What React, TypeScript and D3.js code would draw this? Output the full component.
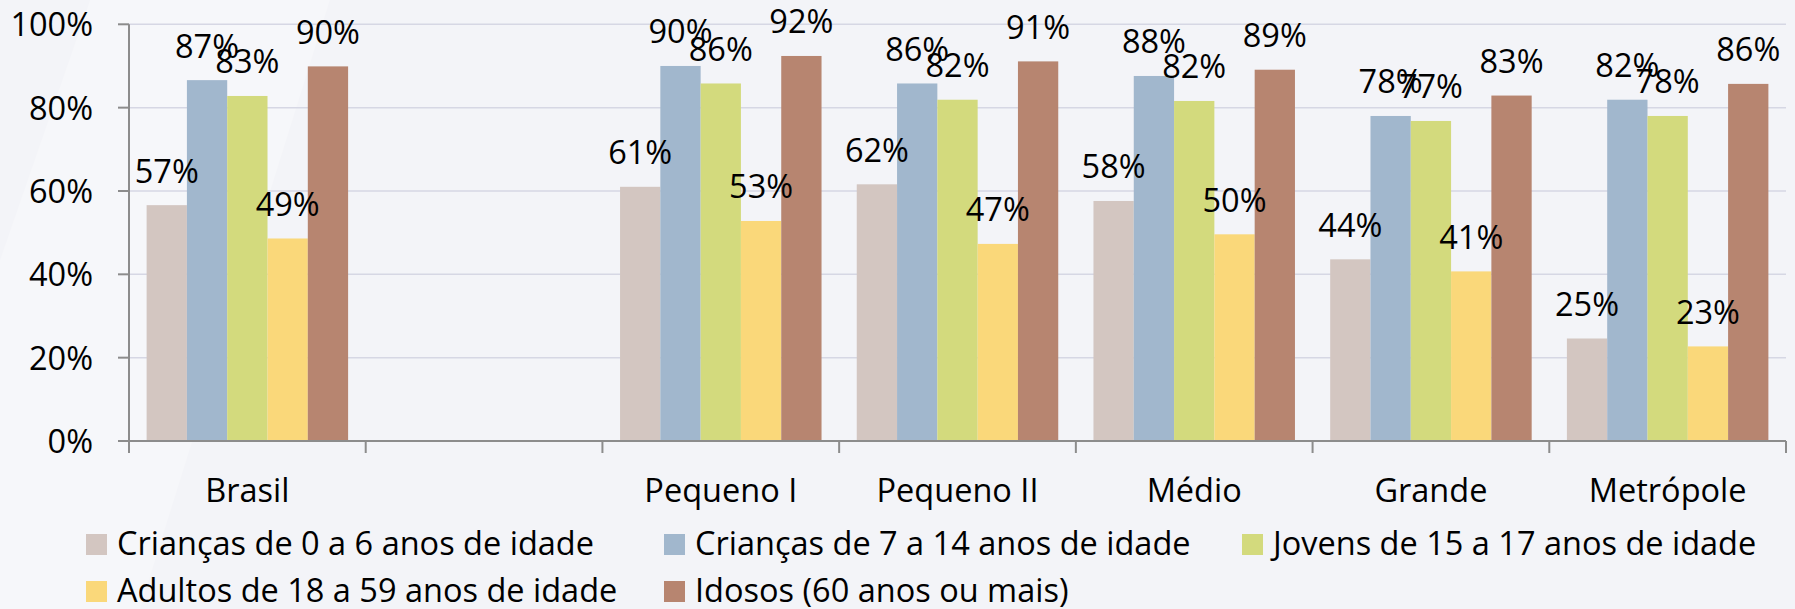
import React from 'react';
import * as d3 from 'd3';

const categories = ['Brasil', '', 'Pequeno I', 'Pequeno II', 'Médio', 'Grande', 'Metrópole'];

const seriesNames = [
  'Crianças de 0 a 6 anos de idade',
  'Crianças de 7 a 14 anos de idade',
  'Jovens de 15 a 17 anos de idade',
  'Adultos de 18 a 59 anos de idade',
  'Idosos (60 anos ou mais)',
];

const seriesColors = ['#D3C6C1', '#A1B7CD', '#D3DA7D', '#FAD87A', '#B78570'];

// values in %, null where the category has no bar
const criancas0a6 = [56.6, null, 61.0, 61.6, 57.6, 43.6, 24.6];
const criancas7a14 = [86.6, null, 90.0, 85.8, 87.6, 78.0, 81.9];
const jovens15a17 = [82.8, null, 85.8, 81.9, 81.6, 76.8, 78.0];
const adultos18a59 = [48.6, null, 52.8, 47.3, 49.6, 40.7, 22.7];
const idosos60 = [89.9, null, 92.4, 91.1, 89.1, 82.9, 85.7];

const yTicks = [0, 20, 40, 60, 80, 100];

const seriesValues = [criancas0a6, criancas7a14, jovens15a17, adultos18a59, idosos60];

const W = 1795;
const H = 609;
const FONT = '"Open Sans", sans-serif';
const FS = 32.5;

export default function App() {
  const x0 = d3.scaleBand<number>()
    .domain(categories.map((_, i) => i))
    .range([129, 1786])
    .padding(0);

  const x1 = d3.scaleBand<number>()
    .domain(seriesNames.map((_, i) => i))
    .range([0, x0.bandwidth()])
    .paddingInner(0)
    .paddingOuter(0.437);

  const y = d3.scaleLinear().domain([0, 100]).range([441, 24.3]);

  const boundaries = categories.map((_, i) => x0(i) as number).concat([x0.range()[1]]);

  const legendCols = [86, 664, 1242];
  const legendRows = [534, 581];

  return (
    <div style={{ position: 'absolute', left: 0, top: 0 }}>
      <svg width={W} height={H} style={{ display: 'block' }} fontFamily={FONT}>
        <rect width={W} height={H} fill="#F3F4F8" />
        <polygon points="90,0 330,0 140,609 0,609 0,260" fill="#ffffff" opacity={0.25} />

        {/* gridlines */}
        {yTicks.filter(t => t > 0).map(t => (
          <line key={t} x1={129} x2={1786} y1={y(t)} y2={y(t)} stroke="#D6D7E4" strokeWidth={1.5} />
        ))}

        {/* bars */}
        {seriesValues.map((vals, s) => (
          <g key={s}>
            {vals.map((v, c) => v == null ? null : (
              <rect
                key={c}
                x={(x0(c) as number) + (x1(s) as number)}
                y={y(v)}
                width={x1.bandwidth()}
                height={y(0) - y(v)}
                fill={seriesColors[s]}
              />
            ))}
          </g>
        ))}

        {/* bar labels */}
        {seriesValues.map((vals, s) => (
          <g key={'l' + s}>
            {vals.map((v, c) => v == null ? null : (
              <text
                key={c}
                x={(x0(c) as number) + (x1(s) as number) + x1.bandwidth() / 2}
                y={y(v) - 22.5}
                textAnchor="middle"
                fontSize={FS}
                fill="#000"
              >
                {Math.round(v)}%
              </text>
            ))}
          </g>
        ))}

        {/* y axis */}
        <line x1={129} x2={129} y1={y(100)} y2={y(0)} stroke="#8C8C8C" strokeWidth={2} />
        {yTicks.map(t => (
          <g key={t}>
            <line x1={118} x2={129} y1={y(t)} y2={y(t)} stroke="#8C8C8C" strokeWidth={2} />
            <text x={93} y={y(t) + 12} textAnchor="end" fontSize={FS} fill="#000">{t}%</text>
          </g>
        ))}

        {/* x axis */}
        <line x1={129} x2={1786} y1={y(0)} y2={y(0)} stroke="#8C8C8C" strokeWidth={2} />
        {boundaries.map((b, i) => (
          <line key={i} x1={b} x2={b} y1={y(0)} y2={y(0) + 12} stroke="#8C8C8C" strokeWidth={2} />
        ))}
        {categories.map((c, i) => (
          <text key={i} x={(x0(i) as number) + x0.bandwidth() / 2} y={501.7} textAnchor="middle" fontSize={FS} fill="#000">
            {c}
          </text>
        ))}

        {/* legend */}
        {seriesNames.map((name, i) => {
          const lx = legendCols[i % 3];
          const ly = legendRows[Math.floor(i / 3)];
          return (
            <g key={name}>
              <rect x={lx} y={ly} width={21} height={21} fill={seriesColors[i]} />
              <text x={lx + 31} y={ly + 20.7} fontSize={FS} fill="#000">{name}</text>
            </g>
          );
        })}
      </svg>
    </div>
  );
}
